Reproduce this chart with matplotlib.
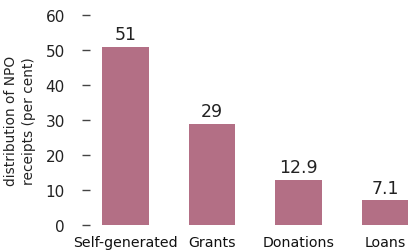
import matplotlib
matplotlib.use("Agg")
import matplotlib.pyplot as plt

categories = ["Self-generated", "Grants", "Donations", "Loans"]
values = [51, 29, 12.9, 7.1]
value_labels = ["51", "29", "12.9", "7.1"]
yticks = [0, 10, 20, 30, 40, 50, 60]

plt.rcParams["font.family"] = ["DejaVu Sans"]

fig = plt.figure(figsize=(4.17, 2.51), dpi=100)
W, H = 417, 251
# axes box in pixels: left 90, right 417, y=0 at row 226, y=60 at row 16
ax = fig.add_axes([90 / W, (H - 226) / H, (417 - 90) / W, (226 - 16) / H])

x = range(len(categories))
ax.bar(x, values, width=0.54, color="#b36f85")
for xi, v, lab in zip(x, values, value_labels):
    ax.text(xi, v + 1.0, lab, ha="center", va="bottom", fontsize=12.5, color="#222222")

ax.set_xlim(-0.41, 3.37)
ax.set_ylim(0, 60)
ax.set_yticks(yticks)
ax.set_xticks(list(x))
ax.set_xticklabels(categories, fontsize=10.2, color="#111111")
ax.tick_params(axis="x", length=0, pad=7)
ax.tick_params(axis="y", length=6, width=1, color="#444444", pad=12, labelsize=11, labelcolor="#222222")
for s in ax.spines.values():
    s.set_visible(False)
ax.set_ylabel("distribution of NPO\nreceipts (per cent)", fontsize=9.9, color="#222222",
              labelpad=7, linespacing=1.35)

fig.savefig("out.png", dpi=100)
